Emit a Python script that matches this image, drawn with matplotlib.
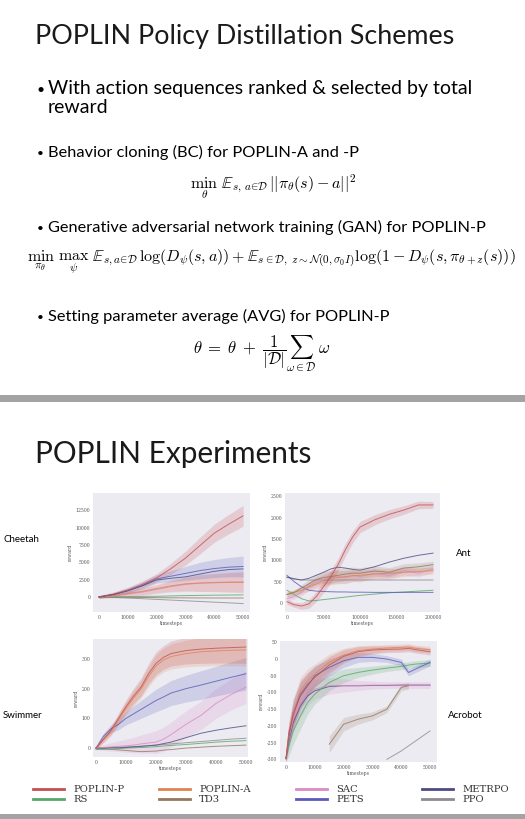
import numpy as np
import matplotlib
matplotlib.use("Agg")
import matplotlib.pyplot as plt
from matplotlib.patches import Rectangle

plt.rcParams['mathtext.fontset'] = 'cm'

W, H = 525, 819

# legend order and colours
names = ["POPLIN-P", "POPLIN-A", "SAC", "METRPO", "RS", "TD3", "PETS", "PPO"]
colors = ["#c44e52", "#dd8452", "#da8bc3", "#4c4c80", "#55a868", "#937860", "#5a5ab8", "#8c8c8c"]

# ---- Cheetah ----
cheetah_x = [0, 5000, 10000, 15000, 20000, 25000, 30000, 35000, 40000, 45000, 50000]
cheetah_poplin_p = [0, 400, 1000, 1800, 2750, 4100, 5600, 7400, 9200, 10500, 11700]
cheetah_poplin_a = [0, 200, 500, 800, 1200, 1600, 1900, 2000, 2050, 2100, 2100]
cheetah_sac = [0, 150, 400, 700, 1100, 1500, 1800, 2000, 2100, 2150, 2200]
cheetah_metrpo = [0, 350, 900, 1600, 2450, 2700, 2900, 3300, 3700, 3950, 4050]
cheetah_rs = [0, 20, 50, 80, 100, 150, 200, 230, 260, 280, 300]
cheetah_td3 = [0, -30, -60, -80, -100, -120, -130, -140, -150, -150, -150]
cheetah_pets = [0, 350, 900, 1650, 2600, 3000, 3400, 3800, 4100, 4300, 4400]
cheetah_ppo = [0, -80, -160, -250, -350, -450, -550, -650, -750, -850, -950]
cheetah_band = [200, 300, 400, 500, 600, 800, 1000, 1200, 1300, 1400, 1500]

# ---- Ant ----
ant_x = [0, 10000, 20000, 30000, 40000, 50000, 60000, 70000, 80000, 90000,
         100000, 120000, 140000, 160000, 180000, 200000]
ant_poplin_p = [30, -40, -70, -20, 150, 380, 620, 900, 1250, 1550, 1780, 1950, 2080, 2180, 2300, 2300]
ant_poplin_a = [200, 250, 300, 380, 450, 520, 580, 600, 620, 640, 650, 680, 700, 720, 740, 760]
ant_sac = [100, 150, 250, 400, 500, 560, 600, 620, 600, 650, 620, 700, 650, 760, 700, 800]
ant_metrpo = [610, 570, 540, 580, 650, 720, 800, 840, 820, 790, 770, 850, 960, 1050, 1120, 1170]
ant_rs = [300, 200, 100, 50, 60, 80, 100, 120, 140, 160, 180, 210, 240, 260, 280, 300]
ant_td3 = [200, 250, 350, 450, 550, 600, 620, 650, 680, 700, 700, 750, 720, 820, 850, 900]
ant_pets = [650, 500, 380, 300, 280, 270, 265, 260, 260, 255, 255, 250, 250, 250, 250, 250]
ant_ppo = [600, 560, 540, 540, 540, 540, 540, 540, 540, 540, 540, 540, 540, 540, 540, 540]
ant_band = [60, 60, 80, 100, 120, 140, 150, 150, 150, 140, 130, 120, 110, 100, 90, 80]

# ---- Swimmer ----
swim_x = [0, 2500, 5000, 7500, 10000, 12500, 15000, 17500, 20000, 22500,
          25000, 30000, 35000, 40000, 45000, 50000]
swim_poplin_p = [0, 30, 60, 100, 140, 175, 205, 250, 285, 305, 318, 328, 333, 336, 338, 340]
swim_poplin_a = [0, 28, 55, 95, 133, 168, 198, 240, 276, 296, 308, 318, 324, 327, 329, 330]
swim_sac = [0, 2, 4, 6, 8, 10, 14, 17, 20, 30, 45, 80, 110, 150, 180, 205]
swim_metrpo = [0, 0, 1, 1, 2, 4, 6, 8, 10, 15, 20, 35, 50, 60, 68, 75]
swim_rs = [-5, -4, -3, -2, 0, 1, 2, 3, 5, 7, 9, 12, 16, 20, 23, 25]
swim_td3 = [0, -2, -4, -6, -8, -10, -12, -11, -10, -7, -5, 0, 3, 6, 8, 10]
swim_pets = [0, 40, 65, 80, 100, 115, 130, 145, 160, 172, 185, 200, 212, 225, 238, 250]
swim_ppo = [0, 1, 2, 3, 4, 5, 6, 8, 10, 12, 14, 18, 22, 26, 30, 33]
swim_band = [5, 10, 14, 18, 22, 26, 30, 34, 38, 40, 42, 45, 48, 50, 52, 55]

# ---- Acrobot ----
acro_x = [0, 1000, 2500, 5000, 7500, 10000, 15000, 20000, 25000, 30000,
          35000, 40000, 42500, 45000, 50000]
acro_poplin_p = [-298, -222, -170, -105, -75, -55, -18, 8, 22, 27, 29, 30, 32, 28, 22]
acro_poplin_a = [-298, -215, -160, -95, -65, -45, -10, 12, 25, 30, 33, 35, 36, 32, 28]
acro_sac = [-298, -240, -180, -135, -105, -90, -80, -79, -79, -78, -78, -78, -78, -78, -78]
acro_metrpo = [-298, -245, -190, -140, -110, -95, -82, -80, -80, -79, -79, -78, -78, -78, -78]
acro_rs = [-298, -260, -215, -170, -130, -105, -70, -50, -40, -33, -27, -22, -18, -15, -12]
acro_td3 = [np.nan, np.nan, np.nan, np.nan, np.nan, np.nan, -255, -195, -180, -170, -150, -85, -80, np.nan, np.nan]
acro_pets = [-298, -230, -160, -110, -80, -50, -25, -5, 5, 5, 0, -10, -40, -30, -10]
acro_ppo = [np.nan, np.nan, np.nan, np.nan, np.nan, np.nan, np.nan, np.nan, np.nan, np.nan, -300, -275, -260, -245, -215]
acro_band = [10, 30, 40, 40, 35, 30, 25, 20, 15, 12, 10, 10, 10, 10, 10]

fig = plt.figure(figsize=(W / 100, H / 100), dpi=100)
fig.patch.set_facecolor("white")


def fx(x):
    return x / W


def fy(y):
    return 1 - y / H


def text_px(x, y, s, **kw):
    fig.text(fx(x), fy(y), s, **kw)


def axes_px(x0, y0, x1, y1):
    return fig.add_axes([fx(x0), fy(y1), (x1 - x0) / W, (y1 - y0) / H])


# grey separators
fig.add_artist(Rectangle((0, fy(402)), 1, 7 / H, transform=fig.transFigure,
                         color="#a3a3a3", lw=0))
fig.add_artist(Rectangle((0, 0), 1, 5 / H, transform=fig.transFigure,
                         color="#a3a3a3", lw=0))

sans = "Lato"

# ---- slide 1 ----
text_px(35, 44, "POPLIN Policy Distillation Schemes", fontsize=19.4, family=sans,
        va="baseline", color="#1a1a1a")
text_px(36, 94, "•", fontsize=10, family=sans, va="baseline")
text_px(48, 94, "With action sequences ranked & selected by total", fontsize=14,
        family=sans, va="baseline")
text_px(48, 113, "reward", fontsize=14, family=sans, va="baseline")

bullets = [(157, "Behavior cloning (BC) for POPLIN-A and -P"),
           (232, "Generative adversarial network training (GAN) for POPLIN-P"),
           (321, "Setting parameter average (AVG) for POPLIN-P")]
for yb, s in bullets:
    text_px(37, yb, "•", fontsize=8.5, family=sans, va="baseline")
    text_px(48, yb, s, fontsize=11.8, family=sans, va="baseline")

text_px(273, 187, r"$\min_{\theta}\ \mathbb{E}_{s,\,a\in\mathcal{D}}||\pi_\theta(s)-a||^2$",
        fontsize=11.5, ha="center", va="center")
text_px(27, 262, r"$\min_{\pi_\theta}\ \max_{\psi}\ \mathbb{E}_{s,a\in\mathcal{D}}\log(D_\psi(s,a))"
        r"+\mathbb{E}_{s\in\mathcal{D},\ z\sim\mathcal{N}(0,\sigma_0 I)}\log(1-D_\psi(s,\pi_{\theta+z}(s)))$",
        fontsize=11.5, ha="left", va="center")
text_px(262, 354, r"$\theta\;=\;\theta\;+\;\dfrac{1}{|\mathcal{D}|}\sum_{\omega\in\mathcal{D}}\;\omega$",
        fontsize=12, ha="center", va="center")

# ---- slide 2 ----
text_px(35, 463, "POPLIN Experiments", fontsize=21.4, family=sans,
        va="baseline", color="#1a1a1a")

env_labels = [(3, 540, "Cheetah"), (456, 553, "Ant"),
              (3, 716, "Swimmer"), (448, 715, "Acrobot")]
for x, y, s in env_labels:
    text_px(x, y, s, fontsize=7, family=sans, va="center", ha="left")

tick_font = dict(family="DejaVu Serif", size=3.3)


def draw_env(box, x, series, band, xlim, ylim, xticks, yticks):
    ax = axes_px(*box)
    ax.set_facecolor("#ecebf2")
    for sp in ax.spines.values():
        sp.set_visible(False)
    x = np.array(x, dtype=float)
    for (vals, col, has_band) in series:
        v = np.array(vals, dtype=float)
        if has_band:
            b = np.array(band, dtype=float)
            ax.fill_between(x, v - b, v + b, color=col, alpha=0.2, lw=0)
        ax.plot(x, v, color=col, lw=0.7, alpha=0.8)
    ax.set_xlim(*xlim)
    ax.set_ylim(*ylim)
    ax.set_xticks(xticks)
    ax.set_yticks(yticks)
    ax.set_xticklabels([str(t) for t in xticks], fontdict=tick_font, color="#555555")
    ax.set_yticklabels([str(t) for t in yticks], fontdict=tick_font, color="#555555")
    ax.tick_params(length=0, pad=2)
    ax.set_xlabel("timesteps", fontdict=tick_font, labelpad=1, color="#555555")
    ax.set_ylabel("reward", fontdict=tick_font, labelpad=2, color="#555555")
    return ax


draw_env((93, 493, 250, 612), cheetah_x,
         [(cheetah_ppo, colors[7], False), (cheetah_td3, colors[5], False),
          (cheetah_rs, colors[4], False), (cheetah_sac, colors[2], True),
          (cheetah_poplin_a, colors[1], True), (cheetah_pets, colors[6], True),
          (cheetah_metrpo, colors[3], False), (cheetah_poplin_p, colors[0], True)],
         cheetah_band, (-2080, 52400), (-2170, 15000),
         [0, 10000, 20000, 30000, 40000, 50000], [0, 2500, 5000, 7500, 10000, 12500])

draw_env((285, 493, 440, 612), ant_x,
         [(ant_ppo, colors[7], False), (ant_rs, colors[4], False),
          (ant_pets, colors[6], False), (ant_sac, colors[2], True),
          (ant_poplin_a, colors[1], True), (ant_td3, colors[5], True),
          (ant_metrpo, colors[3], False), (ant_poplin_p, colors[0], True)],
         ant_band, (-2700, 209600), (-210, 2580),
         [0, 50000, 100000, 150000, 200000], [0, 500, 1000, 1500, 2000, 2500])

draw_env((93, 639, 248, 757), swim_x,
         [(swim_ppo, colors[7], False), (swim_td3, colors[5], False),
          (swim_rs, colors[4], False), (swim_metrpo, colors[3], False),
          (swim_sac, colors[2], True), (swim_pets, colors[6], True),
          (swim_poplin_a, colors[1], True), (swim_poplin_p, colors[0], True)],
         swim_band, (-1000, 50700), (-30, 367),
         [0, 10000, 20000, 30000, 40000, 50000], [0, 100, 200, 300])

draw_env((280, 641, 437, 762), acro_x,
         [(acro_ppo, colors[7], False), (acro_td3, colors[5], True),
          (acro_metrpo, colors[3], False), (acro_sac, colors[2], True),
          (acro_rs, colors[4], True), (acro_pets, colors[6], True),
          (acro_poplin_a, colors[1], True), (acro_poplin_p, colors[0], True)],
         acro_band, (-2080, 52400), (-308, 54),
         [0, 10000, 20000, 30000, 40000, 50000], list(range(-300, 51, 50)))

# ---- legend ----
leg_cols = [33, 159, 296, 422]
leg_rows = [789, 799]
for i, (name, col) in enumerate(zip(names, colors)):
    r, c = divmod(i, 4)
    x0 = leg_cols[c]
    y0 = leg_rows[r]
    fig.add_artist(plt.Line2D([fx(x0), fx(x0 + 31)], [fy(y0), fy(y0)],
                              transform=fig.transFigure, color=col, lw=2))
    text_px(x0 + 40, y0, name, family="DejaVu Serif", fontsize=7.2, va="center",
            color="#333333")

fig.savefig("out.png", dpi=100)
